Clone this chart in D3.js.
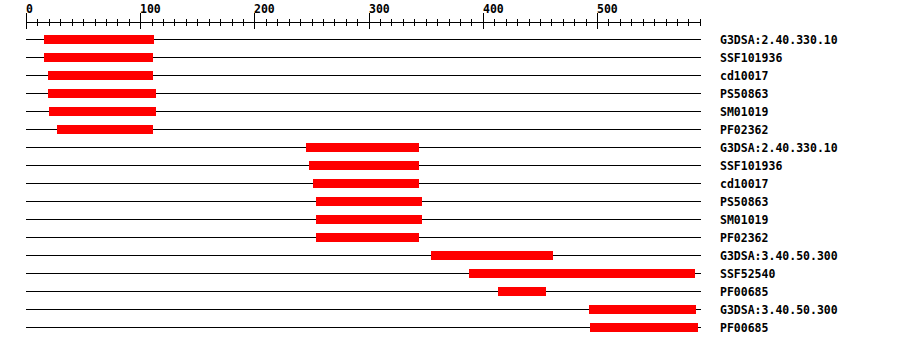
<!DOCTYPE html>
<html>
<head>
<meta charset="utf-8">
<script src="https://cdn.jsdelivr.net/npm/d3@7"></script>
<style>
  html, body { margin: 0; padding: 0; background: #fff; }
  svg { display: block; }
  text { font-family: "DejaVu Sans Mono", "Liberation Mono", monospace; font-weight: bold; font-size: 11.5px; fill: #000; }
</style>
</head>
<body>
<svg id="chart" width="900" height="346"></svg>
<script>
const labels = ["G3DSA:2.40.330.10","SSF101936","cd10017","PS50863","SM01019","PF02362",
                "G3DSA:2.40.330.10","SSF101936","cd10017","PS50863","SM01019","PF02362",
                "G3DSA:3.40.50.300","SSF52540","PF00685","G3DSA:3.40.50.300","PF00685"];
const starts = [16,16,19,19,20,27,245,248,251,254,254,254,355,388,413,493,494];
const ends   = [112,111,111,114,114,111,344,344,344,347,347,344,461,586,455,587,588];
const seqLength = 591;
const majorTicks = [0,100,200,300,400,500];
const minorTicks = d3.range(0, 591, 10);

const svg = d3.select("#chart");
const x = d3.scaleLinear().domain([0, seqLength]).range([26, 701]);
const rowY = d3.scaleLinear().domain([0, 1]).range([39.5, 57.5]);

// Axis
const axis = svg.append("g").attr("shape-rendering", "crispEdges");
axis.append("line").attr("x1", x(0)).attr("x2", x(seqLength))
  .attr("y1", 22.5).attr("y2", 22.5).attr("stroke", "#000").attr("stroke-width", 1);
axis.selectAll("line.minor").data(minorTicks).join("line").attr("class", "minor")
  .attr("x1", d => Math.round(x(d)) + 0.5).attr("x2", d => Math.round(x(d)) + 0.5)
  .attr("y1", 19).attr("y2", 26).attr("stroke", "#000");
axis.selectAll("line.major").data(majorTicks).join("line").attr("class", "major")
  .attr("x1", d => Math.round(x(d)) + 0.5).attr("x2", d => Math.round(x(d)) + 0.5)
  .attr("y1", 13).attr("y2", 29).attr("stroke", "#000");
axis.selectAll("text").data(majorTicks).join("text")
  .attr("x", d => Math.round(x(d)))
  .attr("y", 12.5)
  .text(d => d);

// Rows
const rows = svg.append("g").attr("shape-rendering", "crispEdges");
const g = rows.selectAll("g.row").data(labels).join("g").attr("class", "row");
g.append("line")
  .attr("x1", x(0)).attr("x2", x(seqLength))
  .attr("y1", (d, i) => rowY(i)).attr("y2", (d, i) => rowY(i))
  .attr("stroke", "#000").attr("stroke-width", 1);
g.append("rect")
  .attr("x", (d, i) => x(starts[i]))
  .attr("width", (d, i) => x(ends[i]) - x(starts[i]))
  .attr("y", (d, i) => rowY(i) - 4.5)
  .attr("height", 9)
  .attr("fill", "#ff0000");
g.append("text")
  .attr("x", 720)
  .attr("y", (d, i) => rowY(i) + 4)
  .text(d => d);
</script>
</body>
</html>
